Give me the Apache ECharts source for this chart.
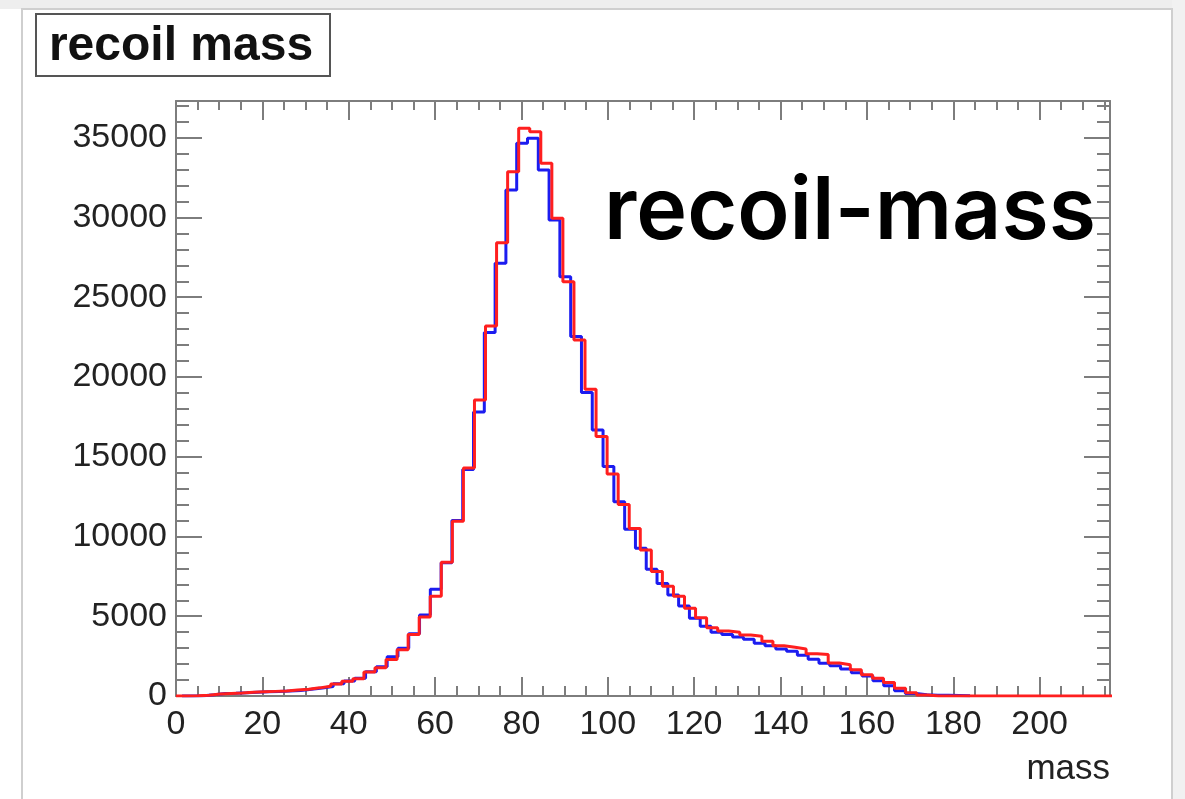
<!DOCTYPE html>
<html>
<head>
<meta charset="utf-8">
<script src="https://cdn.jsdelivr.net/npm/echarts@6/dist/echarts.min.js"></script>
<style>
  html, body { margin: 0; padding: 0; background: #ffffff; }
  #chart { width: 1185px; height: 799px; }
</style>
</head>
<body>
<div id="chart"></div>
<script>
// Axis ranges and tick spacing
const xMax = 216.3;
const yMax = 37300;
const xMajorStep = 20;
const xMinorStep = 5;
const yMajorStep = 5000;
const yMinorStep = 1000;

// Red histogram: bins of width 2.56 starting at 0
const redBinStart = 0;
const redBinWidth = 2.56;
const redCounts = [
  0, 10, 40, 130, 160, 190, 230, 260, 290, 320,
  380, 430, 510, 615, 760, 930, 1080, 1500, 1770, 2290,
  2900, 3860, 4960, 6260, 8390, 10960, 14300, 18560, 23200, 28420,
  32870, 35590, 35380, 33400, 29950, 25975, 22320, 19230, 16260, 13920,
  12000, 10500, 9150, 7800, 6880, 6250, 5500, 4900, 4280, 4070,
  4000, 3820, 3750, 3440, 3150, 3050, 2950, 2650, 2600, 2070,
  1960, 1650, 1330, 1120, 840, 490, 210, 60,
  0, 0, 0, 0, 0, 0, 0, 0, 0, 0, 0, 0, 0, 0, 0, 0, 0
];

// Blue histogram: bins of width 2.5 starting at 1.4
const blueBinStart = 1.4;
const blueBinWidth = 2.5;
const blueCounts = [
  0, 20, 80, 150, 170, 200, 240, 260, 280, 310,
  350, 420, 500, 600, 770, 940, 1120, 1520, 1840, 2460,
  2990, 3900, 5080, 6690, 8350, 11000, 14200, 17800, 22780, 27130,
  31720, 34650, 34960, 32980, 29840, 26290, 22530, 19020, 16680, 14380,
  12180, 10450, 9260, 7940, 7060, 6330, 5640, 4870, 4380, 4000,
  3850, 3700, 3550, 3300, 3150, 2950, 2800, 2550, 2300, 2050,
  1900, 1700, 1450, 1250, 950, 650, 330, 150, 80, 50,
  40, 30, 20
];

// Turn bin contents into [left edge, count] points plus the closing right edge
function histPoints(start, width, counts) {
  const pts = counts.map((c, i) => [start + i * width, c]);
  pts.push([start + counts.length * width, counts[counts.length - 1]]);
  return pts;
}

const frameColor = '#7d7d7d';
const labelFont = { fontFamily: '"Liberation Sans", Arial, sans-serif', fontSize: 34, color: '#222222' };

function xAxisDef(position, step, tickLen, withLabels, withLine) {
  return {
    type: 'value', position: position, min: 0, max: xMax, interval: step, offset: 0,
    axisLine: { show: withLine, onZero: false, lineStyle: { color: frameColor, width: 2 } },
    axisTick: { show: true, inside: true, length: tickLen, lineStyle: { color: frameColor, width: 2 } },
    axisLabel: withLabels ? Object.assign({
      show: true, margin: 12, showMaxLabel: false,
      formatter: v => (Math.abs(v % xMajorStep) < 1e-9 ? String(v) : '')
    }, labelFont) : { show: false },
    splitLine: { show: false }
  };
}

function yAxisDef(position, step, tickLen, withLabels, withLine) {
  return {
    type: 'value', position: position, min: 0, max: yMax, interval: step, offset: 0,
    axisLine: { show: withLine, onZero: false, lineStyle: { color: frameColor, width: 2 } },
    axisTick: { show: true, inside: true, length: tickLen, lineStyle: { color: frameColor, width: 2 } },
    axisLabel: withLabels ? Object.assign({
      show: true, margin: 9, showMaxLabel: false,
      formatter: v => (Math.abs(v % yMajorStep) < 1e-9 ? String(v) : '')
    }, labelFont) : { show: false },
    splitLine: { show: false }
  };
}

const chart = echarts.init(document.getElementById('chart'), null, { renderer: 'canvas' });

chart.setOption({
  animation: false,
  backgroundColor: '#ffffff',
  grid: { left: 176, right: 75, top: 101, bottom: 103, containLabel: false },
  xAxis: [
    xAxisDef('bottom', xMajorStep, 19, true, true),
    xAxisDef('bottom', xMinorStep, 10, false, false),
    xAxisDef('top', xMajorStep, 19, false, true),
    xAxisDef('top', xMinorStep, 9, false, false)
  ],
  yAxis: [
    yAxisDef('left', yMajorStep, 26, true, true),
    yAxisDef('left', yMinorStep, 13, false, false),
    yAxisDef('right', yMajorStep, 26, false, true),
    yAxisDef('right', yMinorStep, 13, false, false)
  ],
  series: [
    {
      name: 'blue', type: 'line', step: 'end', xAxisIndex: 0, yAxisIndex: 0,
      data: histPoints(blueBinStart, blueBinWidth, blueCounts),
      showSymbol: false, clip: true,
      lineStyle: { color: '#1c1cf0', width: 3 }, z: 3
    },
    {
      name: 'red', type: 'line', step: 'end', xAxisIndex: 0, yAxisIndex: 0,
      data: histPoints(redBinStart, redBinWidth, redCounts),
      showSymbol: false, clip: true,
      lineStyle: { color: '#ff1f1f', width: 3 }, z: 4
    }
  ],
  graphic: [
    // canvas surroundings
    { type: 'rect', z: -10, shape: { x: 0, y: 0, width: 1185, height: 9 }, style: { fill: '#eeeeee' } },
    { type: 'rect', z: -10, shape: { x: 1172, y: 0, width: 13, height: 799 }, style: { fill: '#f1f1f1' } },
    { type: 'rect', z: -9, shape: { x: 22, y: 9, width: 1150, height: 800 }, style: { fill: '#ffffff', stroke: '#cfcfcf', lineWidth: 2 } },
    // title box
    { type: 'rect', z: 10, shape: { x: 36, y: 14, width: 294, height: 62 }, style: { fill: '#ffffff', stroke: '#555555', lineWidth: 2 } },
    { type: 'text', z: 11, style: { x: 181, y: 47, text: 'recoil mass', textAlign: 'center', textVerticalAlign: 'middle',
      font: 'bold 48px "Liberation Sans", Arial, sans-serif', fill: '#111111' } },
    // annotation inside the plot
    { type: 'text', z: 11, style: { x: 850, y: 213, text: 'recoil-mass', textAlign: 'center', textVerticalAlign: 'middle',
      font: '600 86px Inter, "Noto Sans", sans-serif', fill: '#000000' } },
    // x axis title
    { type: 'text', z: 11, style: { x: 1110, y: 769, text: 'mass', textAlign: 'right', textVerticalAlign: 'middle',
      font: '35px "Liberation Sans", Arial, sans-serif', fill: '#222222' } }
  ]
});
</script>
</body>
</html>
